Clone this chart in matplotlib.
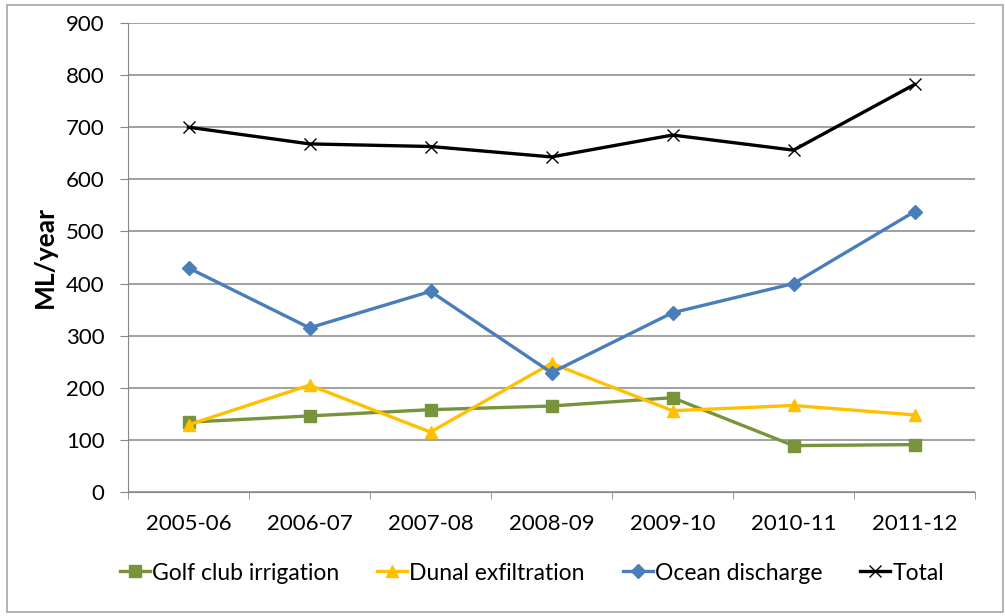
import matplotlib.pyplot as plt
from matplotlib.patches import Rectangle

years = ["2005-06", "2006-07", "2007-08", "2008-09", "2009-10", "2010-11", "2011-12"]
golf = [134, 146, 158, 165, 181, 89, 91]
dunal = [129, 205, 115, 247, 156, 166, 148]
ocean = [430, 315, 385, 229, 344, 400, 538]
total = [700, 668, 663, 643, 685, 656, 782]

plt.rcParams['font.family'] = ['Lato', 'DejaVu Sans']

fig = plt.figure(figsize=(10.05, 6.16), dpi=100)
ax = fig.add_axes([128 / 1005, 1 - 492 / 616, (975 - 128) / 1005, (492 - 23) / 616])

fig.patches.append(Rectangle((7 / 1005, 4 / 616), 996 / 1005, 607 / 616, transform=fig.transFigure,
                             fill=False, edgecolor='#a6a6a6', linewidth=1.2))

x = range(len(years))
ax.plot(x, golf, color='#77933C', lw=2.4, marker='s', ms=8, label='Golf club irrigation')
ax.plot(x, dunal, color='#FFC000', lw=2.4, marker='^', ms=9, label='Dunal exfiltration')
ax.plot(x, ocean, color='#4A7EBB', lw=2.4, marker='D', ms=7, label='Ocean discharge')
ax.plot(x, total, color='black', lw=2.4, marker='x', ms=9, mew=1.0, label='Total')

ax.set_xlim(-0.5, len(years) - 0.5)
ax.set_ylim(0, 900)
ax.set_yticks(range(0, 901, 100))
ax.set_xticks(x)
ax.set_xticklabels(years)
ax.set_xticks([i - 0.5 for i in range(len(years) + 1)], minor=True)
ax.tick_params(axis='x', which='major', length=0, pad=16, labelsize=16)
ax.tick_params(axis='x', which='minor', length=5, color='#868686', direction='out')
ax.tick_params(axis='y', length=6, color='#868686', labelsize=16, pad=11)
ax.yaxis.grid(True, color='#868686', lw=1.1)
ax.set_axisbelow(True)
for s in ['top', 'right']:
    ax.spines[s].set_visible(False)
ax.spines['left'].set_color('#868686')
ax.spines['bottom'].set_color('#868686')
ax.set_ylabel('ML/year', fontsize=19, fontweight='bold', labelpad=6)

fig.legend(loc='center', bbox_to_anchor=(532 / 1005, 1 - 573 / 616), ncol=4, frameon=False,
           fontsize=16.5, handlelength=1.3, handletextpad=0.1, columnspacing=1.65)

fig.savefig('out.png', dpi=100)
